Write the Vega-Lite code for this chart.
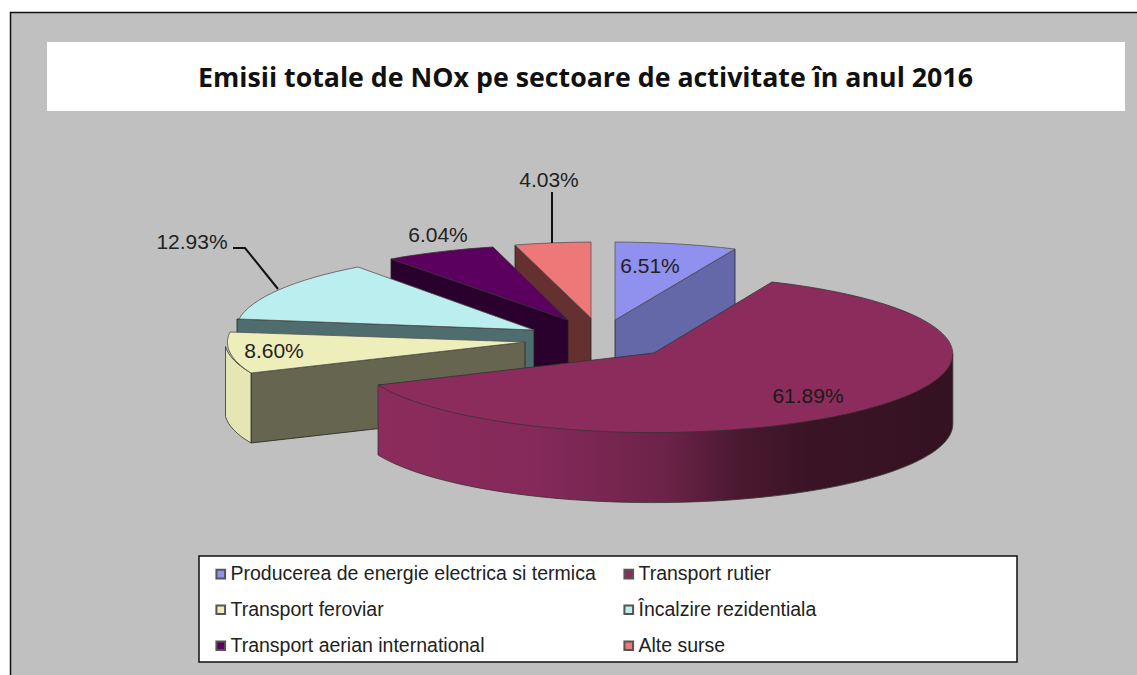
{
"$schema":"https://vega.github.io/schema/vega-lite/v6.json",
"width":1127,"height":663,
"autosize":{"type":"none"},
"padding":{"left":10,"top":12,"right":0,"bottom":0},
"background":"white",
"view":{"fill":"#C0C0C0","stroke":null},
"title":{"text":"Emisii totale de NOx pe sectoare de activitate în anul 2016","frame":"group","anchor":"middle","orient":"top","offset":-83,"dx":12,"font":"Open Sans","fontWeight":700,"fontSize":26.75,"color":"#111111"},
"data":{"values":[
{"sector":"Producerea de energie electrica si termica","share":0.0651},
{"sector":"Transport rutier","share":0.6189},
{"sector":"Transport feroviar","share":0.0860},
{"sector":"Încalzire rezidentiala","share":0.1293},
{"sector":"Transport aerian international","share":0.0604},
{"sector":"Alte surse","share":0.0403}
]},
"encoding":{},
"layer":[
{"data":{"values":[{"part":"title box"}]},"mark":{"type":"point","shape":"M-526.5,-301.5H551.5V-232.5H-526.5Z","size":4,"filled":true,"fill":"white","strokeWidth":0,"opacity":1}},
{"data":{"values":[{"part":"frame"}]},"mark":{"type":"point","shape":"M-563,332V-331H564","size":4,"filled":false,"stroke":"#111111","strokeWidth":1.5,"opacity":1}},
{"data":{"values":[{"part":"legend box"}]},"mark":{"type":"point","shape":"M-374.5,212.5H443.5V318.5H-374.5Z","size":4,"filled":true,"fill":"white","stroke":"#111111","strokeWidth":1.5,"opacity":1}},

{"transform":[{"filter":"datum.sector==='Alte surse'"}],"mark":{"type":"point","shape":"M-58.5,-98.5L17.5,-25.5V44.5L-58.5,-28.5Z","size":4,"filled":true,"fill":"#653030","stroke":"#222","strokeWidth":0.8,"opacity":1}},
{"transform":[{"filter":"datum.sector==='Alte surse'"}],"mark":{"type":"point","shape":"M17.5,-25.5L17.5,-101.5A300,78 0 0 0 -58.5,-98.5Z","size":4,"filled":true,"stroke":"#555","strokeWidth":0.8,"opacity":1},"encoding":{"color":{"field":"sector","type":"nominal"}}},

{"transform":[{"filter":"datum.sector==='Transport aerian international'"}],"mark":{"type":"point","shape":"M-182.5,-84.5L-5.5,-23.5V46.5L-182.5,-14.5Z","size":4,"filled":true,"fill":"#2A002C","stroke":"#222","strokeWidth":0.8,"opacity":1}},
{"transform":[{"filter":"datum.sector==='Transport aerian international'"}],"mark":{"type":"point","shape":"M-5.5,-23.5L-80.5,-96.5A300,78 0 0 0 -182.5,-84.5Z","size":4,"filled":true,"stroke":"#333","strokeWidth":0.8,"opacity":1},"encoding":{"color":{"field":"sector","type":"nominal"}}},

{"transform":[{"filter":"datum.sector==='Încalzire rezidentiala'"}],"mark":{"type":"point","shape":"M-336.5,-24.5L-39.5,-13.5V56.5L-336.5,45.5Z","size":4,"filled":true,"fill":"#4F6C6E","stroke":"#222","strokeWidth":0.8,"opacity":1}},
{"transform":[{"filter":"datum.sector==='Încalzire rezidentiala'"}],"mark":{"type":"point","shape":"M-39.5,-13.5L-215.5,-76.5A300,79 0 0 0 -334.5,-24.5Z","size":4,"filled":true,"stroke":"#555","strokeWidth":0.8,"opacity":1},"encoding":{"color":{"field":"sector","type":"nominal"}}},

{"transform":[{"filter":"datum.sector==='Transport feroviar'"}],"mark":{"type":"point","shape":"M-322.5,29.5L-48.5,-1.5V68.5L-322.5,99.5Z","size":4,"filled":true,"fill":"#666650","stroke":"#222","strokeWidth":0.8,"opacity":1}},
{"transform":[{"filter":"datum.sector==='Transport feroviar'"}],"mark":{"type":"point","shape":"M-348,3A300,79 0 0 0 -322.5,29.5V99.5A300,79 0 0 1 -348,73Z","size":4,"filled":true,"fill":"#E6E6B4","stroke":"#333","strokeWidth":0.8,"opacity":1}},
{"transform":[{"filter":"datum.sector==='Transport feroviar'"}],"mark":{"type":"point","shape":"M-48.5,-1.5L-343.5,-11.5A300,79 0 0 0 -322.5,29.5Z","size":4,"filled":true,"stroke":"#555","strokeWidth":0.8,"opacity":1},"encoding":{"color":{"field":"sector","type":"nominal"}}},

{"transform":[{"filter":"datum.sector==='Producerea de energie electrica si termica'"}],"mark":{"type":"point","shape":"M41.5,-23.5L161.5,-94.5V-24.5L41.5,46.5Z","size":4,"filled":true,"fill":"#6468A8","stroke":"#222","strokeWidth":0.8,"opacity":1}},
{"transform":[{"filter":"datum.sector==='Producerea de energie electrica si termica'"}],"mark":{"type":"point","shape":"M41.5,-23.5L41.5,-101.5A300,78 0 0 1 161.5,-94.5Z","size":4,"filled":true,"stroke":"#555","strokeWidth":0.8,"opacity":1},"encoding":{"color":{"field":"sector","type":"nominal"}}},

{"transform":[{"filter":"datum.sector==='Transport rutier'"}],"mark":{"type":"point","shape":"M379.3,10.6L-195.5,41.5V111.5A299.5,78.5 0 0 0 379.3,80.6Z","size":4,"filled":true,"stroke":"#333","strokeWidth":0.8,"opacity":1,"fill":{"gradient":"linear","x1":1,"x2":0,"y1":0,"y2":0,"stops":[{"offset":0,"color":"#341222"},{"offset":0.25,"color":"#3A1425"},{"offset":0.37,"color":"#4A182F"},{"offset":0.5,"color":"#6C2348"},{"offset":0.72,"color":"#84295A"},{"offset":1,"color":"#8C2C5C"}]}}},
{"transform":[{"filter":"datum.sector==='Transport rutier'"}],"mark":{"type":"point","shape":"M80.5,9.5L198.5,-61.5A299.5,78.5 0 1 1 -195.5,41.5Z","size":4,"filled":true,"stroke":"#333","strokeWidth":0.8,"opacity":1},"encoding":{"color":{"field":"sector","type":"nominal","scale":{"domain":["Producerea de energie electrica si termica","Transport rutier","Transport feroviar","Încalzire rezidentiala","Transport aerian international","Alte surse"],"range":["#9090EE","#8C2C5C","#EEEEBB","#BBEEEE","#5C0060","#EE7777"]},"legend":{"orient":"none","legendX":186,"legendY":545,"columns":2,"direction":"horizontal","gridAlign":"all","title":null,"symbolType":"square","symbolSize":75,"symbolOffset":8,"symbolStrokeColor":"#111111","symbolStrokeWidth":2,"symbolOpacity":1,"labelFont":"Liberation Sans","labelFontSize":19.5,"labelColor":"#222222","labelOffset":0,"labelLimit":500,"rowPadding":15,"columnPadding":15,"padding":7}}}},

{"data":{"values":[{"part":"leader 12.93%"}]},"mark":{"type":"point","shape":"M-340.5,-95.5H-328.5L-295.5,-54.5","size":4,"filled":false,"stroke":"#111111","strokeWidth":2,"opacity":1}},
{"data":{"values":[{"part":"leader 4.03%"}]},"mark":{"type":"point","shape":"M-21.5,-151.5V-100.5","size":4,"filled":false,"stroke":"#111111","strokeWidth":2,"opacity":1}},

{"transform":[{"filter":"datum.sector==='Producerea de energie electrica si termica'"}],"mark":{"type":"text","dx":76.5,"dy":-76.5,"font":"Liberation Sans","fontSize":21,"color":"#222222"},"encoding":{"text":{"field":"share","type":"quantitative","format":".2%"}}},
{"transform":[{"filter":"datum.sector==='Transport rutier'"}],"mark":{"type":"text","dx":234.5,"dy":53.5,"font":"Liberation Sans","fontSize":21,"color":"#1A1A1A"},"encoding":{"text":{"field":"share","type":"quantitative","format":".2%"}}},
{"transform":[{"filter":"datum.sector==='Transport feroviar'"}],"mark":{"type":"text","dx":-299.5,"dy":8.5,"font":"Liberation Sans","fontSize":21,"color":"#222222"},"encoding":{"text":{"field":"share","type":"quantitative","format":".2%"}}},
{"transform":[{"filter":"datum.sector==='Încalzire rezidentiala'"}],"mark":{"type":"text","dx":-381.5,"dy":-100.5,"font":"Liberation Sans","fontSize":21,"color":"#222222"},"encoding":{"text":{"field":"share","type":"quantitative","format":".2%"}}},
{"transform":[{"filter":"datum.sector==='Transport aerian international'"}],"mark":{"type":"text","dx":-135.5,"dy":-107.5,"font":"Liberation Sans","fontSize":21,"color":"#222222"},"encoding":{"text":{"field":"share","type":"quantitative","format":".2%"}}},
{"transform":[{"filter":"datum.sector==='Alte surse'"}],"mark":{"type":"text","dx":-24.5,"dy":-162.5,"font":"Liberation Sans","fontSize":21,"color":"#222222"},"encoding":{"text":{"field":"share","type":"quantitative","format":".2%"}}}
]
}
